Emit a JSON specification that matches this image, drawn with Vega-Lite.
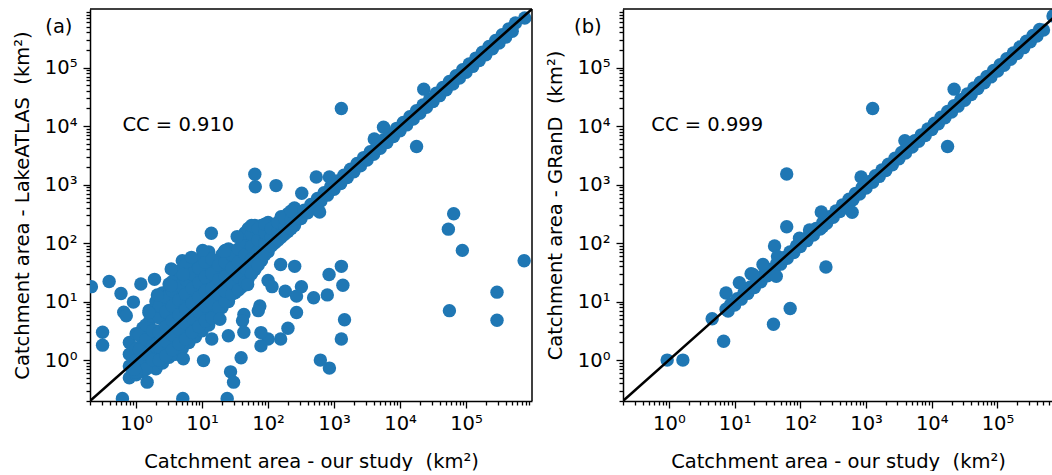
{
"$schema": "https://vega.github.io/schema/vega-lite/v6.json",
"padding": {"left": 12, "top": 1, "right": 0, "bottom": 0},
"spacing": 12,
"config": {"font": "DejaVu Sans", "view": {"stroke": null},
  "axis": {"grid": false, "domainColor": "black", "domainWidth": 1.5, "tickColor": "black", "tickWidth": 1.3, "labelFont": "DejaVu Sans", "labelFontSize": 19.5, "labelColor": "black", "titleFont": "DejaVu Sans", "titleFontSize": 19.5, "titleFontWeight": "normal", "titleColor": "black", "labelPadding": 6, "labelOverlap": false, "labelFlush": false},
  "text": {"font": "DejaVu Sans", "fontSize": 19.5, "color": "black"}},
"datasets": {
"diag": [{"x": 0.2, "y": 0.2}, {"x": 1000000, "y": 1000000}],
"one": [{}],
"a": [
{"x":0.79,"y":0.5},{"x":0.79,"y":0.79},{"x":0.79,"y":1.26},{"x":0.79,"y":2.0},
{"x":1,"y":0.56},{"x":1,"y":1},{"x":1,"y":1.58},{"x":1,"y":2.82},
{"x":1.26,"y":0.63},{"x":1.26,"y":1.12},{"x":1.26,"y":2},{"x":1.26,"y":3.55},
{"x":1.58,"y":0.79},{"x":1.58,"y":1.41},{"x":1.58,"y":2.51},{"x":1.58,"y":4.47},{"x":1.58,"y":7.08},
{"x":2,"y":0.71},{"x":2,"y":1.26},{"x":2,"y":2},{"x":2,"y":3.16},{"x":2,"y":5.62},{"x":2,"y":10},
{"x":2.51,"y":0.89},{"x":2.51,"y":1.58},{"x":2.51,"y":2.82},{"x":2.51,"y":5.01},{"x":2.51,"y":8.91},{"x":2.51,"y":14.1},
{"x":3.16,"y":1.12},{"x":3.16,"y":2},{"x":3.16,"y":3.55},{"x":3.16,"y":6.31},{"x":3.16,"y":11.2},{"x":3.16,"y":20},
{"x":3.98,"y":1.26},{"x":3.98,"y":2.24},{"x":3.98,"y":3.98},{"x":3.98,"y":7.08},{"x":3.98,"y":12.6},{"x":3.98,"y":25.1},
{"x":5.01,"y":1.58},{"x":5.01,"y":2.82},{"x":5.01,"y":5.01},{"x":5.01,"y":8.91},{"x":5.01,"y":15.8},{"x":5.01,"y":31.6},{"x":5.01,"y":50.1},
{"x":6.31,"y":2},{"x":6.31,"y":3.55},{"x":6.31,"y":6.31},{"x":6.31,"y":11.2},{"x":6.31,"y":20},{"x":6.31,"y":35.5},
{"x":7.94,"y":2.51},{"x":7.94,"y":4.47},{"x":7.94,"y":7.94},{"x":7.94,"y":14.1},{"x":7.94,"y":25.1},{"x":7.94,"y":44.7},
{"x":10,"y":3.16},{"x":10,"y":5.62},{"x":10,"y":10},{"x":10,"y":17.8},{"x":10,"y":31.6},{"x":10,"y":56.2},
{"x":12.6,"y":3.98},{"x":12.6,"y":7.08},{"x":12.6,"y":12.6},{"x":12.6,"y":22.4},{"x":12.6,"y":39.8},{"x":12.6,"y":70.8},
{"x":15.8,"y":6.31},{"x":15.8,"y":10},{"x":15.8,"y":15.8},{"x":15.8,"y":28.2},{"x":15.8,"y":50.1},
{"x":20,"y":7.94},{"x":20,"y":12.6},{"x":20,"y":20},{"x":20,"y":35.5},{"x":20,"y":63.1},
{"x":25.1,"y":10},{"x":25.1,"y":17.8},{"x":25.1,"y":28.2},{"x":25.1,"y":50.1},{"x":25.1,"y":79.4},
{"x":31.6,"y":14.1},{"x":31.6,"y":25.1},{"x":31.6,"y":39.8},{"x":31.6,"y":70.8},
{"x":39.8,"y":17.8},{"x":39.8,"y":31.6},{"x":39.8,"y":50.1},{"x":39.8,"y":89.1},
{"x":50.1,"y":25.1},{"x":50.1,"y":44.7},{"x":50.1,"y":70.8},{"x":50.1,"y":126},{"x":50.1,"y":178},
{"x":63.1,"y":35.5},{"x":63.1,"y":63.1},{"x":63.1,"y":100},{"x":63.1,"y":158},{"x":63.1,"y":200},
{"x":79.4,"y":50.1},{"x":79.4,"y":79.4},{"x":79.4,"y":126},{"x":79.4,"y":200},
{"x":100,"y":70.8},{"x":100,"y":100},{"x":100,"y":158},{"x":100,"y":224},
{"x":126,"y":100},{"x":126,"y":141},{"x":126,"y":200},
{"x":158,"y":126},{"x":158,"y":178},{"x":158,"y":282},
{"x":200,"y":158},{"x":200,"y":224},{"x":200,"y":316},
{"x":251,"y":200},{"x":251,"y":282},{"x":251,"y":398},
{"x":1.12,"y":0.84},{"x":1.12,"y":1.5},{"x":1.12,"y":2.66},
{"x":1.41,"y":0.7},{"x":1.41,"y":1.26},{"x":1.41,"y":2.24},{"x":1.41,"y":4.0},
{"x":1.78,"y":1.0},{"x":1.78,"y":1.78},{"x":1.78,"y":3.16},{"x":1.78,"y":5.6},
{"x":2.24,"y":1.0},{"x":2.24,"y":1.68},{"x":2.24,"y":2.99},{"x":2.24,"y":5.3},{"x":2.24,"y":8.4},
{"x":2.82,"y":1.2},{"x":2.82,"y":2.1},{"x":2.82,"y":3.76},{"x":2.82,"y":6.7},{"x":2.82,"y":11.9},
{"x":3.55,"y":1.5},{"x":3.55,"y":2.66},{"x":3.55,"y":4.73},{"x":3.55,"y":8.4},{"x":3.55,"y":15},{"x":3.55,"y":22},
{"x":4.47,"y":1.9},{"x":4.47,"y":3.35},{"x":4.47,"y":5.96},{"x":4.47,"y":10.6},{"x":4.47,"y":18.8},{"x":4.47,"y":33},
{"x":5.62,"y":2.3},{"x":5.62,"y":4.2},{"x":5.62,"y":7.5},{"x":5.62,"y":13.3},{"x":5.62,"y":23.7},{"x":5.62,"y":42},
{"x":7.08,"y":2.99},{"x":7.08,"y":5.3},{"x":7.08,"y":9.4},{"x":7.08,"y":16.8},{"x":7.08,"y":29.9},
{"x":8.91,"y":3.76},{"x":8.91,"y":6.7},{"x":8.91,"y":11.9},{"x":8.91,"y":21},{"x":8.91,"y":37.6},
{"x":11.2,"y":4.7},{"x":11.2,"y":8.4},{"x":11.2,"y":15},{"x":11.2,"y":26.6},{"x":11.2,"y":47},
{"x":14.1,"y":5.3},{"x":14.1,"y":9.4},{"x":14.1,"y":16.8},{"x":14.1,"y":29.9},{"x":14.1,"y":53},
{"x":17.8,"y":7.9},{"x":17.8,"y":13.3},{"x":17.8,"y":23.7},{"x":17.8,"y":42},
{"x":22.4,"y":10},{"x":22.4,"y":15},{"x":22.4,"y":26.6},{"x":22.4,"y":47},{"x":22.4,"y":75},
{"x":28.2,"y":13.3},{"x":28.2,"y":21},{"x":28.2,"y":37.6},{"x":28.2,"y":63},
{"x":35.5,"y":15.8},{"x":35.5,"y":26.6},{"x":35.5,"y":47},{"x":35.5,"y":79},
{"x":44.7,"y":21},{"x":44.7,"y":37.6},{"x":44.7,"y":63},{"x":44.7,"y":106},{"x":44.7,"y":150},
{"x":56.2,"y":30},{"x":56.2,"y":53},{"x":56.2,"y":89},{"x":56.2,"y":141},{"x":56.2,"y":200},
{"x":70.8,"y":42},{"x":70.8,"y":75},{"x":70.8,"y":112},{"x":70.8,"y":178},
{"x":89.1,"y":63},{"x":89.1,"y":100},{"x":89.1,"y":150},{"x":89.1,"y":210},
{"x":112,"y":89},{"x":112,"y":126},{"x":112,"y":178},
{"x":141,"y":112},{"x":141,"y":158},{"x":141,"y":224},
{"x":178,"y":141},{"x":178,"y":200},{"x":178,"y":266},
{"x":224,"y":178},{"x":224,"y":251},{"x":224,"y":355},
{"x":316,"y":262},{"x":354,"y":363},{"x":398,"y":330},{"x":446,"y":458},{"x":501,"y":416},{"x":561,"y":576},
{"x":631,"y":524},{"x":707,"y":726},{"x":794,"y":659},{"x":889,"y":913},{"x":1000,"y":830},{"x":1120,"y":1150},
{"x":1259,"y":1045},{"x":1410,"y":1448},{"x":1585,"y":1316},{"x":1775,"y":1823},{"x":1995,"y":1656},{"x":2234,"y":2294},
{"x":2512,"y":2085},{"x":2813,"y":2889},{"x":3162,"y":2624},{"x":3541,"y":3636},{"x":3981,"y":3304},{"x":4459,"y":4578},
{"x":5012,"y":4160},{"x":5613,"y":5764},{"x":6310,"y":5237},{"x":7067,"y":7256},{"x":7943,"y":6593},{"x":8896,"y":9134},
{"x":10000,"y":8300},{"x":11200,"y":11500},{"x":12589,"y":10449},{"x":14100,"y":14477},{"x":15849,"y":13155},{"x":17751,"y":18226},
{"x":19953,"y":16561},{"x":22347,"y":22946},{"x":25119,"y":20849},{"x":28133,"y":28887},{"x":31623,"y":26247},{"x":35418,"y":36366},
{"x":39811,"y":33043},{"x":44588,"y":45783},{"x":50119,"y":41599},{"x":56133,"y":57637},{"x":63096,"y":52370},{"x":70668,"y":72560},
{"x":79433,"y":65929},{"x":88965,"y":91348},{"x":100000,"y":83000},{"x":112000,"y":115000},{"x":125893,"y":104491},{"x":141000,"y":144777},
{"x":158489,"y":131546},{"x":177508,"y":182262},{"x":199526,"y":165607},{"x":223469,"y":229455},{"x":251189,"y":208487},{"x":281332,"y":288867},
{"x":316228,"y":262469},{"x":354175,"y":363662},{"x":398107,"y":330429},{"x":445880,"y":457823},{"x":501187,"y":415985},{"x":561329,"y":576365},
{"x":776000,"y":700000},
{"x":1290,"y":20000},{"x":22900,"y":42700},{"x":17800,"y":4470},{"x":5620,"y":9550},{"x":4070,"y":6030},
{"x":63,"y":1500},{"x":64,"y":920},{"x":132,"y":960},{"x":537,"y":1350},{"x":850,"y":1350},{"x":324,"y":708},{"x":604,"y":340},
{"x":54000,"y":173},{"x":65000,"y":316},{"x":88000,"y":75},{"x":760000,"y":50},{"x":295000,"y":14.5},{"x":295000,"y":4.8},{"x":56000,"y":7},
{"x":1290,"y":40},{"x":1360,"y":19},{"x":1440,"y":4.9},{"x":1290,"y":2.3},{"x":840,"y":29},{"x":790,"y":13},{"x":490,"y":11.6},
{"x":620,"y":1},{"x":850,"y":0.73},{"x":253,"y":40},{"x":320,"y":18},{"x":270,"y":12.4},{"x":182,"y":15},{"x":270,"y":6.5},
{"x":200,"y":3.5},{"x":155,"y":2.3},{"x":100,"y":2.3},{"x":78,"y":1.75},{"x":78,"y":2.95},{"x":155,"y":43},{"x":100,"y":23},
{"x":115,"y":18},{"x":49,"y":19.5},{"x":75,"y":8.4},{"x":71,"y":7},{"x":43,"y":6},{"x":41,"y":4.7},{"x":43,"y":3},
{"x":18.6,"y":5},{"x":14,"y":2.3},{"x":25,"y":2.6},{"x":39,"y":1.1},{"x":10.5,"y":0.98},{"x":27,"y":0.63},{"x":30,"y":0.42},
{"x":24,"y":0.22},{"x":5.1,"y":0.22},{"x":0.62,"y":0.22},{"x":1.47,"y":0.42},{"x":1.0,"y":0.62},{"x":0.95,"y":0.7},{"x":5.2,"y":1.05},
{"x":0.21,"y":18},{"x":0.39,"y":22},{"x":0.59,"y":13.7},{"x":0.91,"y":9.8},{"x":0.65,"y":6.6},{"x":0.71,"y":5.7},{"x":0.31,"y":3.0},
{"x":0.31,"y":1.8},{"x":1.18,"y":20},{"x":1.9,"y":24},{"x":3.4,"y":36},{"x":5.2,"y":29},{"x":3.4,"y":18.8},{"x":2.1,"y":13},
{"x":1.56,"y":6.5},{"x":13.8,"y":147},{"x":34,"y":129},{"x":21.8,"y":72},{"x":10.2,"y":75},{"x":6.9,"y":57}
],
"b": [
{"x":7.94,"y":6.9},{"x":8.7,"y":8.9},{"x":10,"y":8.7},{"x":11,"y":11.2},{"x":12.6,"y":11},{"x":13.9,"y":14.1},
{"x":15.8,"y":13.8},{"x":17.4,"y":17.7},{"x":20,"y":17.4},{"x":22,"y":22.4},{"x":25.1,"y":21.8},{"x":27.6,"y":28.1},
{"x":31.6,"y":27.5},{"x":34.8,"y":35.4},{"x":39.8,"y":34.6},{"x":43.8,"y":44.6},{"x":50.1,"y":43.6},{"x":55.1,"y":56.1},
{"x":63.1,"y":54.9},{"x":69.4,"y":70.7},{"x":79.4,"y":69.1},{"x":87.3,"y":88.9},{"x":100,"y":87},{"x":110,"y":112},
{"x":126,"y":110},{"x":139,"y":141},{"x":158,"y":137},{"x":174,"y":177},{"x":200,"y":174},{"x":220,"y":224},
{"x":251,"y":218},{"x":276,"y":281},{"x":316,"y":275},{"x":348,"y":354},{"x":398,"y":346},{"x":438,"y":446},
{"x":501,"y":436},{"x":551,"y":561},{"x":631,"y":549},{"x":694,"y":707},{"x":794,"y":691},{"x":873,"y":889},
{"x":1000,"y":870},{"x":1100,"y":1120},{"x":1259,"y":1095},{"x":1385,"y":1410},{"x":1585,"y":1379},{"x":1744,"y":1775},
{"x":1995,"y":1736},{"x":2195,"y":2234},{"x":2512,"y":2185},{"x":2763,"y":2813},{"x":3162,"y":2751},{"x":3478,"y":3541},
{"x":3981,"y":3463},{"x":4379,"y":4459},{"x":5012,"y":4360},{"x":5513,"y":5613},{"x":6310,"y":5490},{"x":6941,"y":7067},
{"x":7943,"y":6910},{"x":8737,"y":8896},{"x":10000,"y":8700},{"x":11000,"y":11200},{"x":12589,"y":10952},{"x":13848,"y":14100},
{"x":15849,"y":13789},{"x":17434,"y":17751},{"x":19953,"y":17359},{"x":21948,"y":22347},{"x":25119,"y":21854},{"x":27631,"y":28133},
{"x":31623,"y":27512},{"x":34785,"y":35418},{"x":39811,"y":34636},{"x":43792,"y":44588},{"x":50119,"y":43604},{"x":55131,"y":56133},
{"x":63096,"y":54894},{"x":69406,"y":70668},{"x":79433,"y":69107},{"x":87376,"y":88965},{"x":100000,"y":87000},{"x":110000,"y":112000},
{"x":125893,"y":109527},{"x":138482,"y":141000},{"x":158489,"y":137885},{"x":174338,"y":177508},{"x":199526,"y":173588},{"x":219479,"y":223469},
{"x":251189,"y":218534},{"x":276308,"y":281332},{"x":316228,"y":275118},{"x":347851,"y":354175},{"x":398107,"y":346353},{"x":437918,"y":445880},
{"x":501187,"y":436033},{"x":700000,"y":760000},
{"x":7.4,"y":14},{"x":11.8,"y":21},{"x":17.8,"y":30},{"x":27,"y":43},{"x":40.5,"y":89},{"x":45,"y":59},{"x":97,"y":121},
{"x":138,"y":168},{"x":208,"y":340},{"x":219,"y":191},{"x":840,"y":1350},{"x":3900,"y":5600},{"x":43,"y":27},{"x":614,"y":337},
{"x":1260,"y":20000},{"x":21900,"y":42700},{"x":17400,"y":4470},{"x":62,"y":1510},{"x":62,"y":190},{"x":245,"y":39},
{"x":70,"y":7.6},{"x":39,"y":4.1},{"x":6.8,"y":2.1},{"x":4.55,"y":5.1},{"x":0.94,"y":1.0},{"x":1.63,"y":1.0},
{"x":7.4,"y":7.4},{"x":19,"y":29}
]
},
"hconcat": [
{
"width": 442, "height": 392,
"layer": [
{"data": {"name": "a"}, "mark": {"type": "circle", "size": 180, "color": "#1f77b4", "opacity": 1, "clip": true},
 "encoding": {
  "x": {"field": "x", "type": "quantitative", "scale": {"type": "log", "domain": [0.2, 1000000], "nice": false},
   "axis": {"title": "Catchment area - our study \u00a0(km²)", "titlePadding": 20,
    "values": [0.2,0.3,0.4,0.5,0.6,0.7,0.8,0.9,1,2,3,4,5,6,7,8,9,10,20,30,40,50,60,70,80,90,100,200,300,400,500,600,700,800,900,1000,2000,3000,4000,5000,6000,7000,8000,9000,10000,20000,30000,40000,50000,60000,70000,80000,90000,100000,200000,300000,400000,500000,600000,700000,800000,900000],
    "labelExpr": "abs(log(datum.value)/LN10 - round(log(datum.value)/LN10)) < 0.001 ? '10' + ['⁰','¹','²','³','⁴','⁵','⁶'][round(log(datum.value)/LN10)] : ''",
    "tickSize": {"condition": {"test": "abs(log(datum.value)/LN10 - round(log(datum.value)/LN10)) < 0.001", "value": 7}, "value": 4}}},
  "y": {"field": "y", "type": "quantitative", "scale": {"type": "log", "domain": [0.2, 1000000], "nice": false},
   "axis": {"title": "Catchment area - LakeATLAS \u00a0(km²)", "titlePadding": 12,
    "values": [0.2,0.3,0.4,0.5,0.6,0.7,0.8,0.9,1,2,3,4,5,6,7,8,9,10,20,30,40,50,60,70,80,90,100,200,300,400,500,600,700,800,900,1000,2000,3000,4000,5000,6000,7000,8000,9000,10000,20000,30000,40000,50000,60000,70000,80000,90000,100000,200000,300000,400000,500000,600000,700000,800000,900000],
    "labelExpr": "abs(log(datum.value)/LN10 - round(log(datum.value)/LN10)) < 0.001 ? '10' + ['⁰','¹','²','³','⁴','⁵','⁶'][round(log(datum.value)/LN10)] : ''",
    "tickSize": {"condition": {"test": "abs(log(datum.value)/LN10 - round(log(datum.value)/LN10)) < 0.001", "value": 7}, "value": 4}}}
 }},
{"data": {"name": "diag"}, "mark": {"type": "line", "color": "black", "strokeWidth": 2.5, "clip": true},
 "encoding": {"x": {"field": "x", "type": "quantitative"}, "y": {"field": "y", "type": "quantitative"}}},
{"data": {"name": "one"}, "mark": {"type": "rule", "color": "black", "strokeWidth": 1.5}, "encoding": {"y": {"datum": 1000000}}},
{"data": {"name": "one"}, "mark": {"type": "rule", "color": "black", "strokeWidth": 1.5}, "encoding": {"x": {"datum": 1000000}}},
{"data": {"name": "one"}, "mark": {"type": "text", "text": "(a)", "align": "left", "baseline": "middle"}, "encoding": {"x": {"datum": 0.042}, "y": {"datum": 500000}}},
{"data": {"name": "one"}, "mark": {"type": "text", "text": "CC = 0.910", "align": "left", "baseline": "middle"}, "encoding": {"x": {"datum": 0.62}, "y": {"datum": 10500}}}
]
},
{
"width": 430, "height": 392,
"layer": [
{"data": {"name": "b"}, "mark": {"type": "circle", "size": 180, "color": "#1f77b4", "opacity": 1, "clip": true},
 "encoding": {
  "x": {"field": "x", "type": "quantitative", "scale": {"type": "log", "domain": [0.2, 700000], "nice": false},
   "axis": {"title": "Catchment area - our study \u00a0(km²)", "titlePadding": 20,
    "values": [0.2,0.3,0.4,0.5,0.6,0.7,0.8,0.9,1,2,3,4,5,6,7,8,9,10,20,30,40,50,60,70,80,90,100,200,300,400,500,600,700,800,900,1000,2000,3000,4000,5000,6000,7000,8000,9000,10000,20000,30000,40000,50000,60000,70000,80000,90000,100000,200000,300000,400000,500000,600000],
    "labelExpr": "abs(log(datum.value)/LN10 - round(log(datum.value)/LN10)) < 0.001 ? '10' + ['⁰','¹','²','³','⁴','⁵','⁶'][round(log(datum.value)/LN10)] : ''",
    "tickSize": {"condition": {"test": "abs(log(datum.value)/LN10 - round(log(datum.value)/LN10)) < 0.001", "value": 7}, "value": 4}}},
  "y": {"field": "y", "type": "quantitative", "scale": {"type": "log", "domain": [0.2, 1000000], "nice": false},
   "axis": {"title": "Catchment area - GRanD \u00a0(km²)", "titlePadding": 12,
    "values": [0.2,0.3,0.4,0.5,0.6,0.7,0.8,0.9,1,2,3,4,5,6,7,8,9,10,20,30,40,50,60,70,80,90,100,200,300,400,500,600,700,800,900,1000,2000,3000,4000,5000,6000,7000,8000,9000,10000,20000,30000,40000,50000,60000,70000,80000,90000,100000,200000,300000,400000,500000,600000,700000,800000,900000],
    "labelExpr": "abs(log(datum.value)/LN10 - round(log(datum.value)/LN10)) < 0.001 ? '10' + ['⁰','¹','²','³','⁴','⁵','⁶'][round(log(datum.value)/LN10)] : ''",
    "tickSize": {"condition": {"test": "abs(log(datum.value)/LN10 - round(log(datum.value)/LN10)) < 0.001", "value": 7}, "value": 4}}}
 }},
{"data": {"name": "diag"}, "mark": {"type": "line", "color": "black", "strokeWidth": 2.5, "clip": true},
 "encoding": {"x": {"field": "x", "type": "quantitative"}, "y": {"field": "y", "type": "quantitative"}}},
{"data": {"name": "one"}, "mark": {"type": "rule", "color": "black", "strokeWidth": 1.5}, "encoding": {"y": {"datum": 1000000}}},
{"data": {"name": "one"}, "mark": {"type": "text", "text": "(b)", "align": "left", "baseline": "middle"}, "encoding": {"x": {"datum": 0.036}, "y": {"datum": 500000}}},
{"data": {"name": "one"}, "mark": {"type": "text", "text": "CC = 0.999", "align": "left", "baseline": "middle"}, "encoding": {"x": {"datum": 0.54}, "y": {"datum": 10500}}}
]
}
]
}
